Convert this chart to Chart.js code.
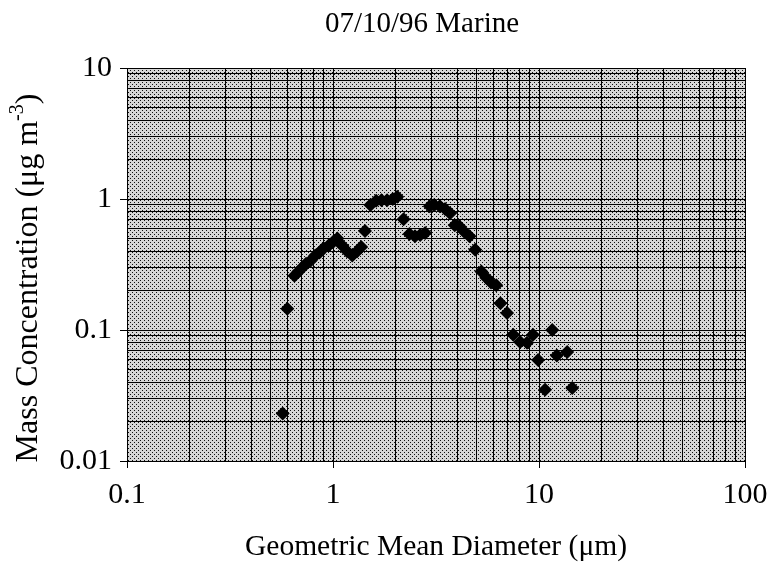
<!DOCTYPE html>
<html>
<head>
<meta charset="UTF-8">
<title>07/10/96 Marine</title>
<script src="https://cdn.jsdelivr.net/npm/chart.js@4.4.1/dist/chart.umd.min.js"></script>
<style>
    html, body { margin: 0; padding: 0; background: #fff; }
    #wrap { width: 773px; height: 572px; }
</style>
</head>
<body>
<div id="wrap"><canvas id="chart" width="773" height="572"></canvas></div>
<script>
// values
var diameters = [0.57, 0.60, 0.65, 0.68, 0.71, 0.74, 0.78, 0.82, 0.86, 0.90, 0.95, 1.00, 1.05,
    1.11, 1.17, 1.24, 1.31, 1.37, 1.43, 1.52, 1.62, 1.72, 1.83, 1.95, 2.05, 2.20,
    2.35, 2.50, 2.65, 2.80, 2.95, 3.10, 3.30, 3.50, 3.70, 3.90, 4.10, 4.30, 4.60, 4.90,
    5.25, 5.55, 5.85, 6.20, 6.50, 7.00, 7.50, 8.10, 8.75, 9.35, 9.90, 10.7, 11.6, 12.2, 13.7, 14.5];
var concentrations = [0.023, 0.145, 0.26, 0.28, 0.30, 0.32, 0.34, 0.37, 0.39, 0.42, 0.44, 0.47, 0.50,
    0.44, 0.40, 0.37, 0.40, 0.43, 0.57, 0.90, 0.97, 0.98, 0.98, 1.00, 1.04, 0.70,
    0.54, 0.52, 0.53, 0.55, 0.88, 0.90, 0.88, 0.84, 0.78, 0.63, 0.62, 0.57, 0.52, 0.41,
    0.28, 0.25, 0.23, 0.22, 0.16, 0.135, 0.092, 0.081, 0.080, 0.092, 0.059, 0.035, 0.100, 0.064, 0.068, 0.036];

var xMajor = [0.1, 1, 10, 100];
var yMajor = [0.01, 0.1, 1, 10];

var chartTitle = '07/10/96 Marine';
var xTitle = 'Geometric Mean Diameter (\u03bcm)';
var yTitleMain = 'Mass Concentration (\u03bcg m';
var yTitleSup = '-3';
var yTitleEnd = ')';

var FONT = '"Liberation Serif", "Times New Roman", serif';

// 1..9 in every decade, so every grid line of the log paper is drawn
function logTicks(majors) {
    var out = [];
    for (var i = 0; i < majors.length; i++) {
        out.push({ value: majors[i], major: true });
        if (i < majors.length - 1) {
            for (var m = 2; m <= 9; m++) {
                out.push({ value: Number((majors[i] * m).toPrecision(3)) });
            }
        }
    }
    return out;
}

function isMajor(list, v) {
    return list.indexOf(v) >= 0;
}

// dotted grey paper behind the grid
var dotPattern = (function() {
    var c = document.createElement('canvas');
    c.width = 4; c.height = 4;
    var g = c.getContext('2d');
    g.fillStyle = '#d6d6d6';
    g.fillRect(0, 0, 4, 4);
    g.fillStyle = '#111';
    g.fillRect(0, 0, 1, 1);
    g.fillRect(2, 2, 1, 1);
    return c;
})();

var paperPlugin = {
    id: 'paper',
    beforeDraw: function(chart) {
        var a = chart.chartArea, ctx = chart.ctx;
        ctx.save();
        ctx.fillStyle = ctx.createPattern(dotPattern, 'repeat');
        ctx.fillRect(a.left, a.top, a.right - a.left, a.bottom - a.top);
        ctx.restore();
    },
    afterDraw: function(chart) {
        var ctx = chart.ctx;
        ctx.save();
        ctx.fillStyle = '#000';
        // chart title
        ctx.font = '29px ' + FONT;
        ctx.textAlign = 'center';
        ctx.textBaseline = 'middle';
        ctx.fillText(chartTitle, 422, 24);

        // y title with superscript
        ctx.translate(29, 278);
        ctx.rotate(-Math.PI / 2);
        ctx.textBaseline = 'middle';
        ctx.textAlign = 'left';
        ctx.font = '32px ' + FONT;
        var w1 = ctx.measureText(yTitleMain).width;
        ctx.font = '20px ' + FONT;
        var w2 = ctx.measureText(yTitleSup).width;
        ctx.font = '32px ' + FONT;
        var w3 = ctx.measureText(yTitleEnd).width;
        var x0 = -(w1 + w2 + w3) / 2;
        ctx.fillText(yTitleMain, x0, 0);
        ctx.font = '20px ' + FONT;
        ctx.fillText(yTitleSup, x0 + w1, -11);
        ctx.font = '32px ' + FONT;
        ctx.fillText(yTitleEnd, x0 + w1 + w2, 0);
        ctx.restore();
    }
};

var points = diameters.map(function(d, i) { return { x: d, y: concentrations[i] }; });

new Chart(document.getElementById('chart'), {
    type: 'scatter',
    data: {
        datasets: [{
            data: points,
            pointStyle: 'rectRot',
            pointRadius: 7,
            pointBackgroundColor: '#000',
            pointBorderWidth: 0,
            showLine: false
        }]
    },
    options: {
        responsive: false,
        animation: false,
        layout: { padding: { top: 68, right: 28, bottom: 0, left: 0 } },
        plugins: {
            legend: { display: false },
            tooltip: { enabled: false }
        },
        scales: {
            x: {
                type: 'logarithmic',
                min: 0.1,
                max: 100,
                afterBuildTicks: function(s) { s.ticks = logTicks(xMajor); },
                afterFit: function(s) {
                    s.height = 111;
                    s.paddingLeft = 0;
                    s.paddingRight = 0;
                },
                ticks: {
                    autoSkip: false,
                    maxRotation: 0,
                    padding: 9,
                    color: '#000',
                    font: { family: FONT, size: 30 },
                    callback: function(v) { return isMajor(xMajor, v) ? String(v) : ''; }
                },
                grid: {
                    color: '#000',
                    lineWidth: 1,
                    tickLength: 7,
                    tickColor: function(c) { return c.tick && isMajor(xMajor, c.tick.value) ? '#000' : 'rgba(0,0,0,0)'; }
                },
                border: { color: '#000' },
                title: {
                    display: true,
                    text: xTitle,
                    color: '#000',
                    font: { family: FONT, size: 29.5 },
                    padding: { top: 0, bottom: 7 }
                }
            },
            y: {
                type: 'logarithmic',
                min: 0.01,
                max: 10,
                afterBuildTicks: function(s) { s.ticks = logTicks(yMajor); },
                afterFit: function(s) { s.width = 127; },
                ticks: {
                    autoSkip: false,
                    padding: 8,
                    color: '#000',
                    font: { family: FONT, size: 30 },
                    callback: function(v) { return isMajor(yMajor, v) ? String(v) : ''; }
                },
                grid: {
                    color: '#000',
                    lineWidth: 1,
                    tickLength: 7,
                    tickColor: function(c) { return c.tick && isMajor(yMajor, c.tick.value) ? '#000' : 'rgba(0,0,0,0)'; }
                },
                border: { color: '#000' }
            }
        }
    },
    plugins: [paperPlugin]
});
</script>
</body>
</html>
